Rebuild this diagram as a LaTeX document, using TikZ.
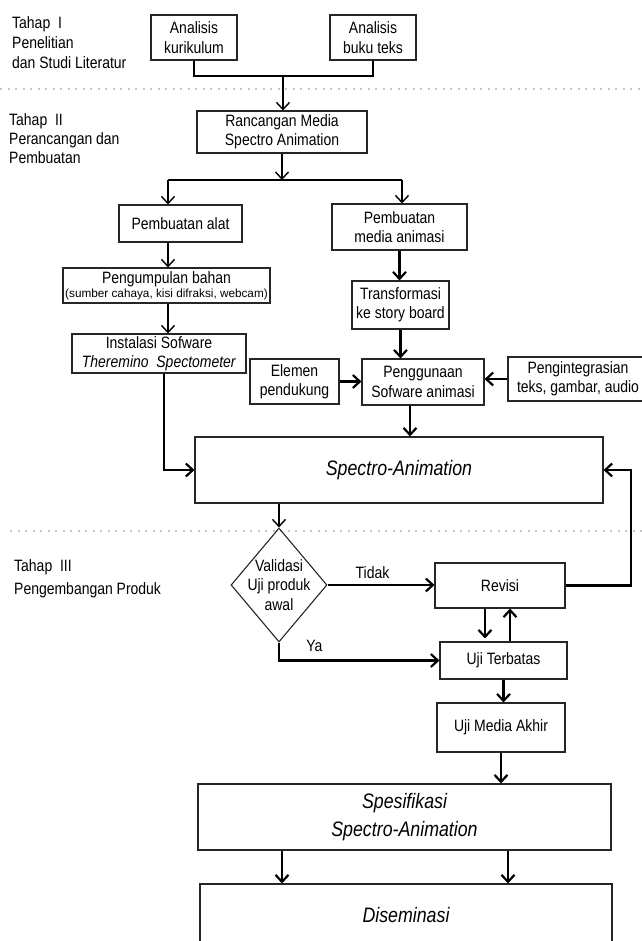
\documentclass[tikz,border=0pt]{standalone}
\usepackage{fontspec}
\setmainfont{Liberation Sans}[FakeStretch=0.85]
\newfontfamily\widefont{Liberation Sans}
\usetikzlibrary{arrows.meta,shapes.geometric}
\newcommand{\bodysize}{\fontsize{16.5}{19.5}\selectfont}
\newcommand{\bigsize}{\fontsize{21}{28}\selectfont\itshape}
\newcommand{\smallnote}{\widefont\fontsize{11.8}{14}\selectfont}
\tikzset{
  box/.style={draw=black!85, line width=1.1bp, align=center, inner sep=2bp},
  bigbox/.style={box, font=\bigsize},
  phase/.style={anchor=north west, align=left, inner sep=0pt},
  thinline/.style={line width=1.1bp},
  thinarrow/.style={->, line width=1.4bp},
  thickarrow/.style={->, line width=2.2bp},
  dotline/.style={gray!45, line width=2bp, dash pattern=on 2bp off 5.5bp}
}
\begin{document}
\begin{tikzpicture}[x=1bp, y=-1bp, >={Straight Barb[length=7bp,width=13bp]},
  every node/.style={font=\bodysize}]
\useasboundingbox (0,0) rectangle (642,941);
% stages
\node[phase, font=\fontsize{16.5}{20.5}\selectfont] (tahap1) at (12,16) {Tahap~~I\\Penelitian\\dan Studi Literatur};
\node[phase] (tahap2) at (9,113) {Tahap~~II\\Perancangan dan\\Pembuatan};
\node[phase, font=\fontsize{16.5}{23}\selectfont] (tahap3) at (14,559) {Tahap~~III\\Pengembangan Produk};
\draw[dotline] (0,89) -- (642,89);
\draw[dotline] (10,531) -- (642,531);
% boxes
\node[box, minimum width=86bp, minimum height=45bp] (kur) at (194,37.5) {Analisis\\kurikulum};
\node[box, minimum width=86bp, minimum height=45bp] (buku) at (373,37.5) {Analisis\\buku teks};
\node[box, minimum width=170bp, minimum height=42bp] (ranc) at (282,132) {Rancangan Media\\Spectro Animation};
\node[box, minimum width=123bp, minimum height=37bp] (alat) at (180.5,223.5) {Pembuatan alat};
\node[box, minimum width=135bp, minimum height=46bp] (media) at (399.5,227) {Pembuatan\\media animasi};
\node[box, minimum width=207bp, minimum height=35bp, inner sep=1bp] (peng) at (166.5,285.5)
  {Pengumpulan bahan\\[-5bp]{\smallnote (sumber cahaya, kisi difraksi, webcam)}};
\node[box, minimum width=174bp, minimum height=39bp] (inst) at (159,353.5) {Instalasi Sofware\\\textit{Theremino\ \ Spectometer}};
\node[box, minimum width=97bp, minimum height=48bp] (trans) at (400.5,305) {Transformasi\\ke story board};
\node[box, minimum width=89bp, minimum height=45bp] (elemen) at (294.5,381.5) {Elemen\\pendukung};
\node[box, minimum width=122bp, minimum height=46bp] (guna) at (423,382) {Penggunaan\\Sofware animasi};
\node[box, minimum width=140bp, minimum height=44bp] (integ) at (578,379) {Pengintegrasian\\teks, gambar, audio};
\node[bigbox, minimum width=408bp, minimum height=66bp] (spec) at (399,470) {Spectro-Animation};
\node[draw=black!85, line width=1.1bp, diamond, aspect=1.05, inner sep=-6bp, align=center,
  minimum width=96bp, minimum height=114bp] (dia) at (279,585) {Validasi\\Uji produk\\awal};
\node[box, minimum width=130bp, minimum height=45bp] (rev) at (500,585.5) {Revisi};
\node[box, minimum width=127bp, minimum height=37bp] (uji) at (503.5,660.5) {Uji Terbatas};
\node[box, minimum width=128bp, minimum height=49bp] (akhir) at (501,727.5) {Uji Media Akhir};
\node[bigbox, minimum width=413bp, minimum height=66bp] (spek) at (404.5,817) {Spesifikasi\\Spectro-Animation};
\node[bigbox, minimum width=412bp, minimum height=62bp] (dis) at (406,915) {Diseminasi};
% connectors
\coordinate (join) at (283,76);
\coordinate (split) at (282,180);
\coordinate (splitL) at (168,180);
\coordinate (splitR) at (402,180);
\coordinate (back) at (631,585.5);
\draw[thinline] (kur.south) |- (join) -| (buku.south);
\draw[thinarrow] (join) -- (join |- ranc.north);
\draw[thinarrow] (ranc.south -| split) -- (split);
\draw[thinline] (splitL) -- (splitR);
\draw[thinarrow] (splitL) -- (splitL |- alat.north);
\draw[thinarrow] (splitR) -- (splitR |- media.north);
\draw[thinarrow] (alat.south -| splitL) -- (peng.north -| splitL);
\draw[thinarrow] (peng.south -| splitL) -- (inst.north -| splitL);
\draw[thickarrow] ([xshift=5bp]inst.south) |- (spec.west);
\draw[thickarrow] (media.south) -- (media.south |- trans.north);
\draw[thickarrow] (trans.south) -- (trans.south |- guna.north);
\draw[thickarrow] (elemen.east) -- (elemen.east -| guna.west);
\draw[thickarrow] (integ.west) -- (integ.west -| guna.east);
\draw[thickarrow] ([xshift=-13bp]guna.south) -- ([xshift=-13bp]guna.south |- spec.north);
\draw[thickarrow] (rev.east) -- (back) |- (spec.east);
\draw[thinarrow] (spec.south -| dia.north) -- (dia.north);
\draw[thickarrow] (dia.east) -- (dia.east -| rev.west) node[pos=0.42, above=2bp] (tidak) {Tidak};
\draw[thickarrow] (dia.south) |- (uji.west) node[pos=0.61, above=4bp] (ya) {Ya};
\draw[thickarrow, shorten >=3bp] ([xshift=-15bp]rev.south) -- ([xshift=-15bp]rev.south |- uji.north);
\draw[thickarrow] ([xshift=6.5bp]uji.north) -- ([xshift=6.5bp]uji.north |- rev.south);
\draw[thickarrow] (uji.south) -- (uji.south |- akhir.north);
\draw[thickarrow] (akhir.south) -- (akhir.south |- spek.north);
\draw[thickarrow] ([xshift=-122.5bp]spek.south) -- ([xshift=-122.5bp]spek.south |- dis.north);
\draw[thickarrow] ([xshift=103.5bp]spek.south) -- ([xshift=103.5bp]spek.south |- dis.north);
\end{tikzpicture}
\end{document}
